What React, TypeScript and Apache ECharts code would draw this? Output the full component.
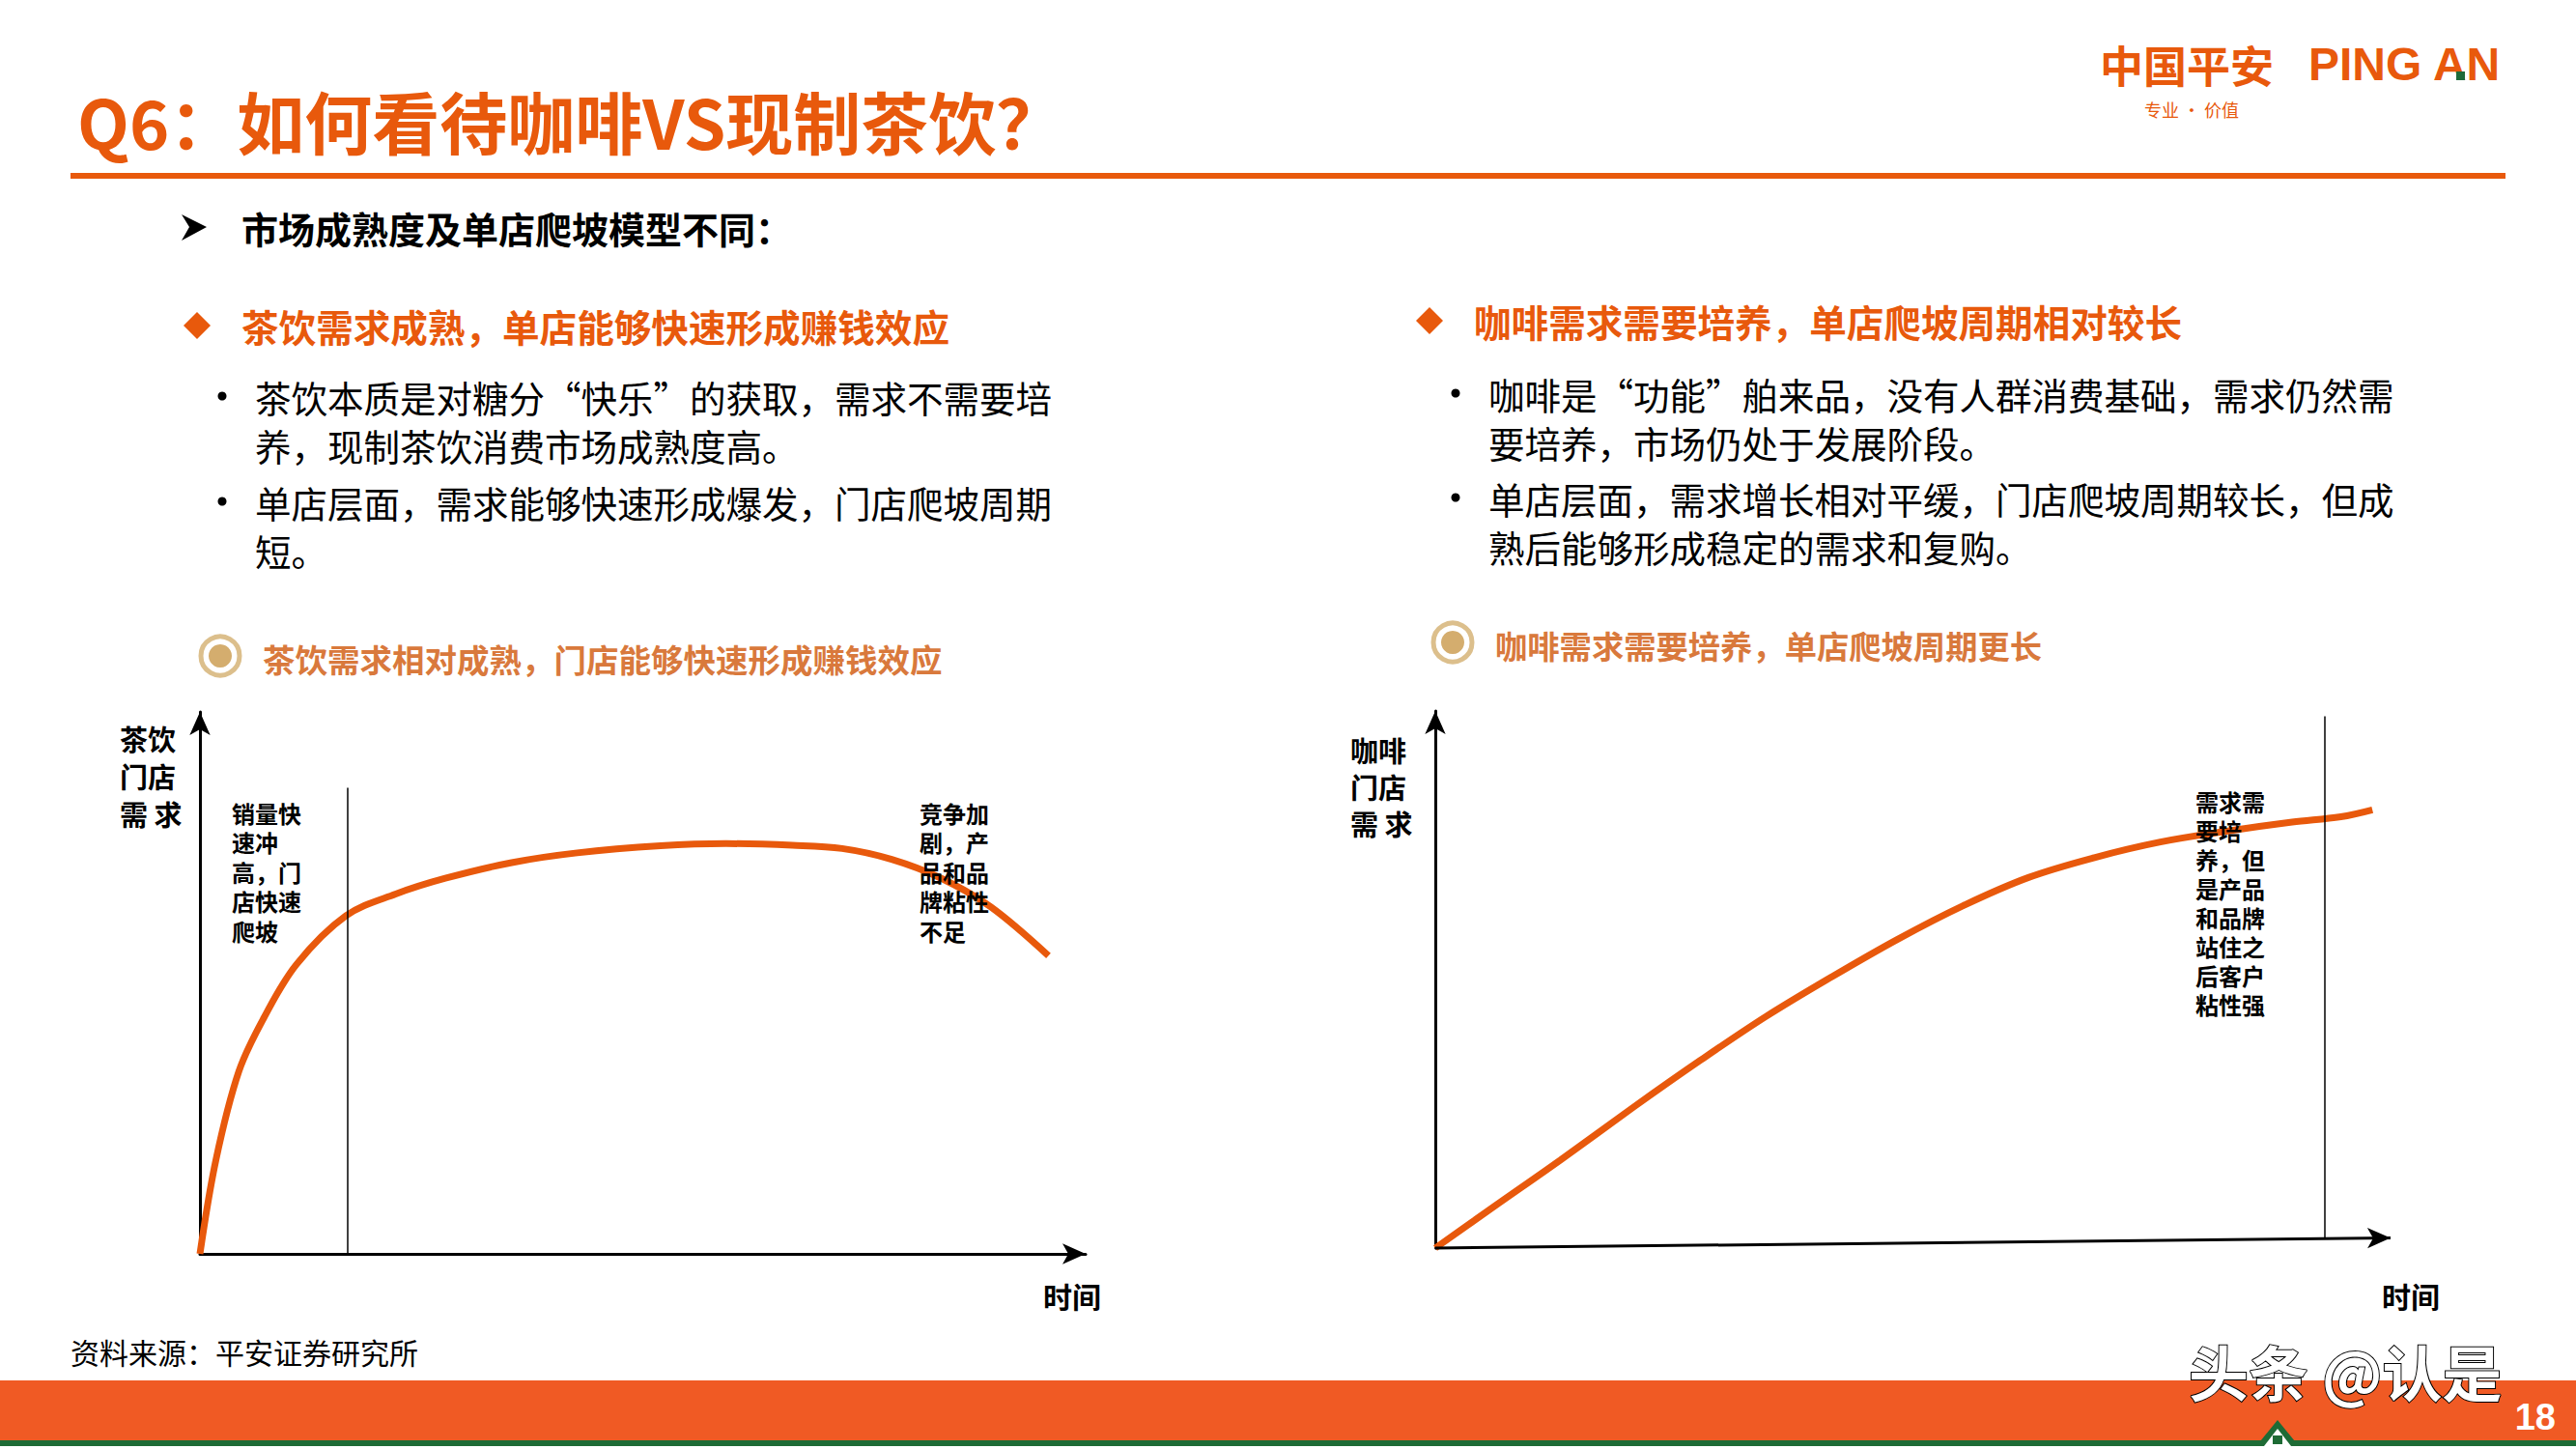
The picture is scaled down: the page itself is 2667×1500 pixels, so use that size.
import React, { useEffect, useRef } from "react";
import * as echarts from "echarts";

// ---- Data ----
const teaX = [0, 1.8, 4.4, 7.2, 10.9, 16.5, 22.1, 27.7, 35.2, 42.6, 52.0, 59.4, 66.9, 72.5, 78.1, 83.7, 89.3, 95.8];
const teaY = [0, 17.3, 33.7, 43.5, 53.4, 62.4, 66.4, 69.3, 72.2, 74.0, 75.3, 75.7, 75.4, 74.8, 72.8, 69.3, 64.0, 55.0];
const teaPhaseX = 16.7;
const teaPhaseTop = 86;

const coffeeX = [0, 6.2, 13.1, 20.8, 27.7, 34.6, 41.5, 48.4, 55.2, 62.1, 69.0, 75.9, 82.8, 89.7, 94.8, 98.1];
const coffeeY = [0, 7.8, 16.4, 26.3, 34.9, 43.1, 50.5, 57.5, 63.7, 69.0, 72.7, 75.6, 77.6, 79.3, 80.3, 81.6];
const coffeePhaseX = 93.1;
const coffeePhaseTop = 99;
const coffeeBaseEndY = 1.9;

// ---- Texts ----
const titleText = "Q6：如何看待咖啡VS现制茶饮？";
const subtitleText = "市场成熟度及单店爬坡模型不同：";
const leftHeader = "茶饮需求成熟，单店能够快速形成赚钱效应";
const rightHeader = "咖啡需求需要培养，单店爬坡周期相对较长";
const leftBullets = [
  ["茶饮本质是对糖分“快乐”的获取，需求不需要培", "养，现制茶饮消费市场成熟度高。"],
  ["单店层面，需求能够快速形成爆发，门店爬坡周期", "短。"],
];
const rightBullets = [
  ["咖啡是“功能”舶来品，没有人群消费基础，需求仍然需", "要培养，市场仍处于发展阶段。"],
  ["单店层面，需求增长相对平缓，门店爬坡周期较长，但成", "熟后能够形成稳定的需求和复购。"],
];
const leftSub = "茶饮需求相对成熟，门店能够快速形成赚钱效应";
const rightSub = "咖啡需求需要培养，单店爬坡周期更长";
const teaYLabel = ["茶饮", "门店", "需 求"];
const coffeeYLabel = ["咖啡", "门店", "需 求"];
const teaNoteLeft = ["销量快", "速冲", "高，门", "店快速", "爬坡"];
const teaNoteRight = ["竞争加", "剧，产", "品和品", "牌粘性", "不足"];
const coffeeNote = ["需求需", "要培", "养，但", "是产品", "和品牌", "站住之", "后客户", "粘性强"];
const timeLabel = "时间";
const sourceText = "资料来源：平安证券研究所";

const CJK = '"Noto Sans CJK SC", "Noto Sans", sans-serif';
const LATIN = '"Liberation Sans", Arial, sans-serif';
const ORANGE = "#e8590c";
const SUB_ORANGE = "#d9793c";
const TAN = "#d4ad6e";

function txt(x: number, y: number, text: string, opts: any = {}) {
  const align = opts.align || "left";
  const va = opts.va || "middle";
  const style: any = {
    text,
    fill: opts.fill || "#000",
    fontSize: opts.size || 30,
    fontWeight: opts.weight || "normal",
    fontFamily: opts.family || CJK,
    align,
    textAlign: align,
    verticalAlign: va,
    textVerticalAlign: va,
  };
  if (opts.lineHeight) style.lineHeight = opts.lineHeight;
  if (opts.stroke) {
    style.stroke = opts.stroke;
    style.lineWidth = opts.strokeWidth || 1;
  }
  if (opts.shadow) {
    style.textShadowColor = opts.shadow;
    style.textShadowOffsetX = 3;
    style.textShadowOffsetY = 3;
    style.textShadowBlur = 0;
  }
  return { type: "text", x, y, z: 10, style };
}

// one multi-line text block; y0 = centre of first line
function block(x: number, y0: number, lines: string[], step: number, opts: any) {
  return txt(x, y0 - step / 2, lines.join("\n"), { ...opts, lineHeight: step, va: "top" });
}

export default function App() {
  const ref = useRef<HTMLDivElement>(null);

  useEffect(() => {
    if (!ref.current) return;
    const chart = echarts.init(ref.current, undefined, { renderer: "svg" });

    const teaData = teaX.map((x, i) => [x, teaY[i]]);
    const coffeeData = coffeeX.map((x, i) => [x, coffeeY[i]]);

    const graphics: any[] = [];
    // title
    graphics.push(txt(80, 124, titleText, { fill: ORANGE, size: 70, weight: "bold" }));
    // logo
    graphics.push(txt(2174, 66, "中国平安", { fill: ORANGE, size: 45, weight: "bold" }));
    graphics.push(txt(2390, 66, "PING AN", { fill: ORANGE, size: 48, weight: "bold", family: LATIN }));
    graphics.push({ type: "rect", z: 11, shape: { x: 2543, y: 74, width: 9, height: 9 }, style: { fill: "#1d6b3a" } });
    graphics.push(txt(2220, 113, "专业 · 价值", { fill: ORANGE, size: 18 }));
    // orange rule
    graphics.push({ type: "rect", shape: { x: 73, y: 179, width: 2521, height: 6 }, style: { fill: ORANGE } });
    // subtitle with arrow
    graphics.push({
      type: "polygon",
      shape: { points: [[188, 222], [214, 235], [188, 249], [196, 235]] },
      style: { fill: "#000" },
    });
    graphics.push(txt(250, 235, subtitleText, { size: 38, weight: "bold" }));
    // headers
    graphics.push({
      type: "polygon",
      shape: { points: [[204, 323], [218, 337], [204, 351], [190, 337]] },
      style: { fill: ORANGE },
    });
    graphics.push(txt(250, 337, leftHeader, { fill: ORANGE, size: 38.6, weight: "bold" }));
    graphics.push({
      type: "polygon",
      shape: { points: [[1480, 318], [1494, 332], [1480, 346], [1466, 332]] },
      style: { fill: ORANGE },
    });
    graphics.push(txt(1526, 332, rightHeader, { fill: ORANGE, size: 38.6, weight: "bold" }));
    // bullets
    const lb = [410, 519];
    leftBullets.forEach((lines, i) => {
      graphics.push({ type: "circle", shape: { cx: 230, cy: lb[i], r: 4.5 }, style: { fill: "#000" } });
      graphics.push(block(264, lb[i], lines, 50, { size: 37.5 }));
    });
    const rb = [407, 515];
    rightBullets.forEach((lines, i) => {
      graphics.push({ type: "circle", shape: { cx: 1507, cy: rb[i], r: 4.5 }, style: { fill: "#000" } });
      graphics.push(block(1541, rb[i], lines, 50, { size: 37.5 }));
    });
    // sub headers with ring icon
    [[228, 679], [1504, 665]].forEach(([cx, cy]) => {
      graphics.push({ type: "circle", shape: { cx, cy, r: 20 }, style: { fill: "none", stroke: "#dcbf8c", lineWidth: 5 } });
      graphics.push({ type: "circle", shape: { cx, cy, r: 12 }, style: { fill: TAN } });
    });
    graphics.push(txt(272, 681, leftSub, { fill: SUB_ORANGE, size: 33.5, weight: "bold" }));
    graphics.push(txt(1548, 667, rightSub, { fill: SUB_ORANGE, size: 33.3, weight: "bold" }));
    // y labels
    graphics.push(block(124, 764, teaYLabel, 39, { size: 29, weight: "bold" }));
    graphics.push(block(1398, 776, coffeeYLabel, 38, { size: 29, weight: "bold" }));
    // annotations
    graphics.push(block(240, 841, teaNoteLeft, 30.5, { size: 24, weight: "bold" }));
    graphics.push(block(952, 841, teaNoteRight, 30.5, { size: 24, weight: "bold" }));
    graphics.push(block(2273, 829, coffeeNote, 30, { size: 24, weight: "bold" }));
    // time labels
    graphics.push(txt(1080, 1341, timeLabel, { size: 30, weight: "bold" }));
    graphics.push(txt(2466, 1341, timeLabel, { size: 30, weight: "bold" }));
    // source
    graphics.push(txt(73, 1399, sourceText, { size: 30 }));
    // bottom band
    graphics.push({ type: "rect", shape: { x: 0, y: 1429, width: 2667, height: 62 }, style: { fill: "#f05a24" } });
    graphics.push({ type: "rect", shape: { x: 0, y: 1491, width: 2667, height: 6 }, style: { fill: "#1e6b35" } });
    graphics.push({
      type: "polygon",
      z: 11,
      shape: { points: [[2336, 1497], [2358, 1470], [2380, 1497]] },
      style: { fill: "#1e6b35" },
    });
    graphics.push({
      type: "polygon",
      z: 12,
      shape: { points: [[2344, 1497], [2358, 1479], [2372, 1497]] },
      style: { fill: "#fff" },
    });
    graphics.push({ type: "rect", z: 13, shape: { x: 2353, y: 1486, width: 10, height: 9 }, style: { fill: "#1e6b35" } });
    // watermark
    graphics.push(txt(2266, 1419, "头条 @认是", { fill: "#fff", size: 62, weight: "bold", stroke: "#000", strokeWidth: 2, shadow: "#000" }));
    graphics.push(txt(2646, 1467, "18", { fill: "#fff", size: 38, weight: "bold", align: "right", family: LATIN }));

    const axisBase = {
      type: "value",
      min: 0,
      max: 100,
      axisTick: { show: false },
      axisLabel: { show: false },
      splitLine: { show: false },
    };
    const lineAxis = (show: boolean) => ({
      show,
      onZero: false,
      symbol: ["none", "arrow"],
      symbolSize: [16, 24],
      lineStyle: { color: "#000", width: 3 },
    });

    chart.setOption({
      animation: false,
      backgroundColor: "#fff",
      grid: [
        { left: 207, top: 737, width: 917, height: 561 },
        { left: 1486, top: 736, width: 989, height: 556 },
      ],
      xAxis: [
        { ...axisBase, gridIndex: 0, axisLine: lineAxis(true) },
        { ...axisBase, gridIndex: 1, axisLine: lineAxis(false) },
      ],
      yAxis: [
        { ...axisBase, gridIndex: 0, axisLine: lineAxis(true) },
        { ...axisBase, gridIndex: 1, axisLine: lineAxis(true) },
      ],
      graphic: { elements: graphics },
      series: [
        {
          type: "line",
          xAxisIndex: 0,
          yAxisIndex: 0,
          data: teaData,
          smooth: 0.35,
          showSymbol: false,
          lineStyle: { color: ORANGE, width: 7 },
          markLine: {
            silent: true,
            symbol: ["none", "none"],
            label: { show: false },
            lineStyle: { color: "#000", width: 1.5, type: "solid" },
            data: [[{ coord: [teaPhaseX, 0] }, { coord: [teaPhaseX, teaPhaseTop] }]],
          },
        },
        {
          type: "line",
          xAxisIndex: 1,
          yAxisIndex: 1,
          data: coffeeData,
          smooth: 0.35,
          showSymbol: false,
          lineStyle: { color: ORANGE, width: 7 },
          markLine: {
            silent: true,
            label: { show: false },
            data: [
              [
                { coord: [coffeePhaseX, coffeeBaseEndY * coffeePhaseX / 100], symbol: "none", lineStyle: { color: "#000", width: 1.5, type: "solid" } },
                { coord: [coffeePhaseX, coffeePhaseTop], symbol: "none" },
              ],
              [
                { coord: [0, 0], symbol: "none", lineStyle: { color: "#000", width: 3, type: "solid" } },
                { coord: [100, coffeeBaseEndY], symbol: "arrow", symbolSize: [16, 24] },
              ],
            ],
          },
        },
      ],
    });

    return () => chart.dispose();
  }, []);

  return (
    <div
      ref={ref}
      style={{ position: "absolute", left: 0, top: 0, width: 2667, height: 1500, background: "#fff" }}
    />
  );
}
